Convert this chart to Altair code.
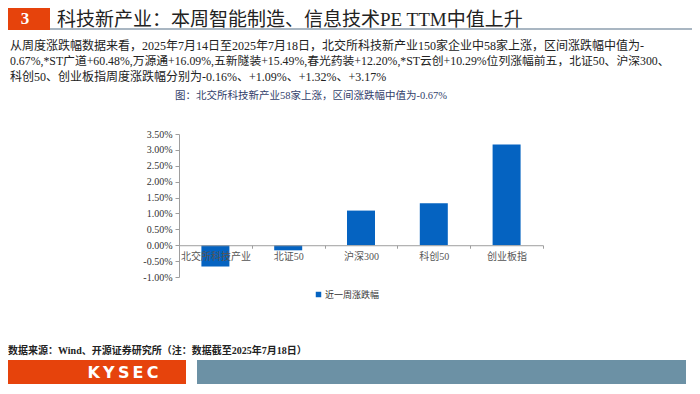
import altair as alt
import pandas as pd

# ---------------- data ----------------
categories = ["北交所科技产业", "北证50", "沪深300", "科创50", "创业板指"]
weekly_change = [-0.67, -0.16, 1.09, 1.32, 3.17]
series_name = "近一周涨跌幅"
y_ticks = [-1.0, -0.5, 0.0, 0.5, 1.0, 1.5, 2.0, 2.5, 3.0, 3.5]

section_no = "3"
header_title = "科技新产业：本周智能制造、信息技术PE TTM中值上升"
para_lines = [
    "从周度涨跌幅数据来看，2025年7月14日至2025年7月18日，北交所科技新产业150家企业中58家上涨，区间涨跌幅中值为-",
    "0.67%,*ST广道+60.48%,万源通+16.09%,五新隧装+15.49%,春光药装+12.20%,*ST云创+10.29%位列涨幅前五，北证50、沪深300、",
    "科创50、创业板指周度涨跌幅分别为-0.16%、+1.09%、+1.32%、+3.17%",
]
chart_title = "图：北交所科技新产业58家上涨，区间涨跌幅中值为-0.67%"
source_note = "数据来源：Wind、开源证券研究所（注：数据截至2025年7月18日）"
logo_text = "K\u2009Y\u2009S\u2009E\u2009C"

# ---------------- layout ----------------
W, H = 364, 143
PAD = {"left": 171, "top": 126, "right": 149, "bottom": 107}
ZERO_OFFSET = -(H - H * 3.5 / 4.5)

CJK = "Liberation Serif, Noto Sans CJK SC"
ORANGE = "#E6430C"
STEEL = "#6C91A5"
BLUE = "#0563C1"

df = pd.DataFrame({"category": categories, "change": weekly_change, "series": series_name})


def deco_text(text, x, y, **kw):
    return alt.Chart(pd.DataFrame({"t": [text]})).mark_text(**kw).encode(
        text="t:N", x=alt.value(x), y=alt.value(y)
    )


def deco_rect(x, x2, y, y2, color):
    return alt.Chart(pd.DataFrame({"k": [0]})).mark_rect(color=color).encode(
        x=alt.value(x), x2=alt.value(x2), y=alt.value(y), y2=alt.value(y2)
    )


layers = []
# header
layers.append(deco_rect(-171, -129, -126, -104, ORANGE))
layers.append(deco_text(section_no, -154, -115, font="Liberation Serif", fontSize=17,
                        fontWeight="bold", color="white", align="center", baseline="middle"))
layers.append(deco_text(header_title, -122, -114.5, font=CJK, fontSize=19, color="#222222",
                        align="left", baseline="middle"))
layers.append(
    alt.Chart(pd.DataFrame({"k": [0]})).mark_rule(color="#A9B6C2", strokeWidth=2).encode(
        x=alt.value(-129), x2=alt.value(513), y=alt.value(-105)
    )
)
# paragraph
para_sizes = [12, 11.8, 12]
for i, line in enumerate(para_lines):
    layers.append(deco_text(line, -169, -88.5 + 15.5 * i, font=CJK, fontSize=para_sizes[i],
                            color="#222222", align="left", baseline="middle"))
# chart title
layers.append(deco_text(chart_title, 132, -38, font=CJK, fontSize=10.5, color="#33416B",
                        align="center", baseline="middle"))
# source
layers.append(deco_text(source_note, -171, 217, font=CJK, fontSize=10, fontWeight="bold",
                        color="#222222", align="left", baseline="middle"))
# footer
layers.append(deco_rect(-171, 7, 226, 250, ORANGE))
layers.append(deco_rect(18, 507, 226, 250, STEEL))
layers.append(deco_text(logo_text, -56, 239, font="DejaVu Sans", fontSize=16, fontWeight="bold",
                        color="white", align="center", baseline="middle"))

bars = alt.Chart(df).mark_bar(size=28).encode(
    x=alt.X(
        "category:N",
        sort=categories,
        scale=alt.Scale(paddingInner=0, paddingOuter=0),
        axis=alt.Axis(
            title=None, labelAngle=0, offset=ZERO_OFFSET, tickBand="extent", ticks=True,
            tickSize=3, domainColor="#9E9E9E", tickColor="#9E9E9E", labelFont=CJK,
            labelFontSize=10, labelColor="#555555", labelPadding=3, zindex=1,
        ),
    ),
    y=alt.Y(
        "change:Q",
        scale=alt.Scale(domain=[-1, 3.5], nice=False, zero=False),
        axis=alt.Axis(
            title=None, values=y_ticks, grid=False,
            labelExpr="(datum.value < 0 ? '-' : '') + format(abs(datum.value), '.2f') + '%'",
            domainColor="#9E9E9E", tickColor="#9E9E9E", tickSize=4,
            labelFont="Liberation Serif", labelFontSize=10, labelColor="#333333", labelPadding=3,
        ),
    ),
    color=alt.Color(
        "series:N",
        scale=alt.Scale(range=[BLUE]),
        legend=alt.Legend(
            title=None, orient="none", legendX=135, legendY=156, symbolType="square",
            symbolSize=30, labelFont=CJK, labelFontSize=9, labelColor="#333333", padding=0,
            direction="horizontal", labelOffset=2,
        ),
    ),
)

chart = alt.layer(*layers, bars).properties(
    width=W, height=H, padding=PAD, autosize=alt.AutoSizeParams(type="none")
).configure_view(stroke=None)

chart.save("out.html", embed_options={"renderer": "svg", "actions": False})
